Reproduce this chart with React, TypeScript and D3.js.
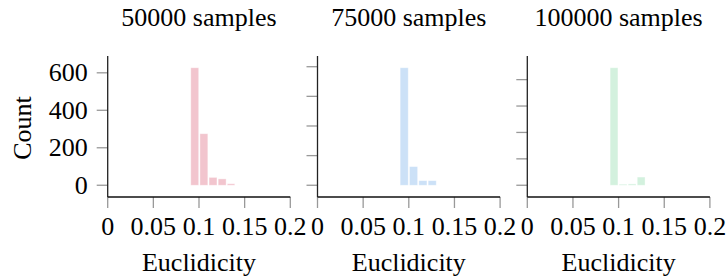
import React from "react";
import * as d3 from "d3";

const titles = ["50000 samples", "75000 samples", "100000 samples"];
const colors = ["#f2c5ce", "#cce1f7", "#d3f1de"];
const binEdges1 = [0.091, 0.101, 0.111, 0.121, 0.131, 0.1405];
const counts1 = [627, 275, 42, 34, 8];
const binEdges2 = [0.0905, 0.1007, 0.111, 0.1212, 0.1314];
const counts2 = [793, 126, 31, 31];
const binEdges3 = [0.0907, 0.1006, 0.1105, 0.1204, 0.1303];
const counts3 = [890, 8, 10, 62];
const xTicks = [0, 0.05, 0.1, 0.15, 0.2];
const xTickLabels = ["0", "0.05", "0.1", "0.15", "0.2"];
const yTicks = [0, 200, 400, 600, 800];
const xLabel = "Euclidicity";
const yLabel = "Count";

const panels = [
  { edges: binEdges1, counts: counts1 },
  { edges: binEdges2, counts: counts2 },
  { edges: binEdges3, counts: counts3 },
];

const W = 728;
const H = 277;
const left0 = 107.7;
const step = 209.8;
const pw = 182.6;
const top = 56;
const bottom = 197;
const fs = 26;
const ts: React.CSSProperties = { fontFamily: "'Liberation Serif', 'Times New Roman', serif", fontSize: fs };

export default function App() {
  return (
    <svg
      width={W}
      height={H}
      style={{ position: "absolute", left: 0, top: 0, background: "#fff" }}
    >
      {panels.map((p, i) => {
        const x0 = left0 + i * step;
        const x = d3.scaleLinear().domain([0, 0.2]).range([x0, x0 + pw]);
        const m = d3.max(p.counts) as number;
        const y = d3.scaleLinear().domain([-0.1 * m, 1.1 * m]).range([bottom, top]);
        const ticks = yTicks.filter((t) => t <= 1.1 * m);
        const cx = x0 + pw / 2;
        return (
          <g key={i}>
            {p.counts.map((c, j) => {
              const xa = x(p.edges[j]);
              const xb = x(p.edges[j + 1]);
              return (
                <rect
                  key={j}
                  x={xa}
                  y={y(c)}
                  width={Math.max(0, xb - xa - 1.2)}
                  height={y(0) - y(c)}
                  fill={colors[i]}
                  stroke="#fff"
                  strokeOpacity={0.5}
                  strokeWidth={0.8}
                />
              );
            })}
            {ticks.map((t) => (
              <line key={"yt" + t} x1={x0 - 11} x2={x0} y1={y(t)} y2={y(t)} stroke="#999" strokeWidth={1.3} />
            ))}
            {xTicks.map((t) => (
              <line key={"xt" + t} x1={x(t)} x2={x(t)} y1={bottom} y2={bottom + 11} stroke="#999" strokeWidth={1.3} />
            ))}
            <line x1={x0} x2={x0} y1={top} y2={bottom} stroke="#222" strokeWidth={1.3} />
            <line x1={x0} x2={x0 + pw} y1={bottom} y2={bottom} stroke="#111" strokeWidth={1.3} />
            {xTicks.map((t, k) => (
              <text key={"xl" + t} x={x(t)} y={235} textAnchor="middle" style={ts} fill="#000">
                {xTickLabels[k]}
              </text>
            ))}
            {i === 0 &&
              ticks.map((t) => (
                <text key={"yl" + t} x={x0 - 20} y={y(t) + 8.5} textAnchor="end" style={ts} fill="#000">
                  {t}
                </text>
              ))}
            <text x={cx} y={26} textAnchor="middle" style={ts} fill="#000">
              {titles[i]}
            </text>
            <text x={cx} y={271} textAnchor="middle" style={ts} fill="#000">
              {xLabel}
            </text>
          </g>
        );
      })}
      <text transform="translate(31,128) rotate(-90)" textAnchor="middle" style={ts} fill="#000">
        {yLabel}
      </text>
    </svg>
  );
}
